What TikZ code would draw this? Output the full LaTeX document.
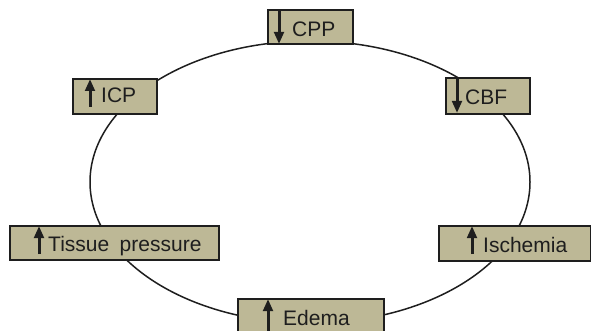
\documentclass[tikz,border=0pt]{standalone}
\usepackage{fontspec}
\setmainfont{Liberation Sans}
\usetikzlibrary{arrows.meta}
\definecolor{boxfill}{RGB}{189,184,150}
\definecolor{ink}{RGB}{30,30,30}
\tikzset{
  box/.style={draw=ink, line width=2pt, fill=boxfill, inner sep=0pt, anchor=north west},
  lbl/.style={anchor=base west, inner sep=0pt, text=ink, font=\fontsize{21}{25}\selectfont},
  trend/.style={draw=ink, line width=3pt, -{Triangle[width=9.5pt,length=12pt]}},
  loop/.style={draw=ink, line width=1.5pt}
}
\begin{document}
\begin{tikzpicture}[x=1pt,y=-1pt]
  \useasboundingbox (0,0) rectangle (591,331);
  \clip (0,0) rectangle (591,331);
  % the vicious cycle
  \draw[loop] (310,182) ellipse [x radius=220, y radius=141];
  % boxes
  \node[box, minimum width=85pt, minimum height=34pt] (cpp) at (267,9) {};
  \node[box, minimum width=84pt, minimum height=35pt] (icp) at (72,78) {};
  \node[box, minimum width=84pt, minimum height=36pt] (cbf) at (445,77) {};
  \node[box, minimum width=209pt, minimum height=34pt] (tp) at (9,225) {};
  \node[box, minimum width=152pt, minimum height=35pt] (isc) at (438,225) {};
  \node[box, minimum width=146pt, minimum height=40pt] (ede) at (237,298) {};
  % labels
  \node[lbl] (tcpp) at (292,37) {CPP};
  \node[lbl] (ticp) at (101,103) {ICP};
  \node[lbl] (tcbf) at (465,105) {CBF};
  \node[lbl] (ttp) at (48,251) {Tissue\hspace{0.5em}pressure};
  \node[lbl] (tisc) at (483,252) {Ischemia};
  \node[lbl] (tede) at (283,325) {Edema};
  % up / down trend arrows
  \draw[trend] (279,10) -- (279,44);
  \draw[trend] (90,107) -- (90,79);
  \draw[trend] (457,78) -- (457,113);
  \draw[trend] (39,254) -- (39,226);
  \draw[trend] (472,254) -- (472,226);
  \draw[trend] (268,335) -- (268,299);
\end{tikzpicture}
\end{document}
